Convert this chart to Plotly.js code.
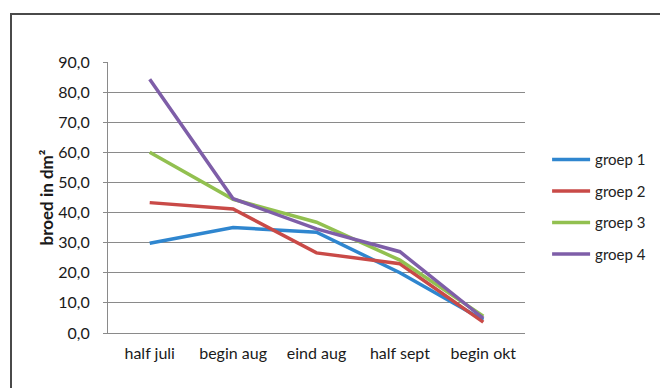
<!DOCTYPE html>
<html>
<head>
<meta charset="utf-8">
<script src="https://cdn.plot.ly/plotly-3.0.1.min.js"></script>
<style>
html,body{margin:0;padding:0;background:#fff;}
#wrap{position:relative;width:660px;height:388px;overflow:hidden;}
#chart{position:absolute;left:0;top:0;width:660px;height:388px;}
#frame{position:absolute;left:10px;top:13px;width:700px;height:400px;border-top:2px solid #4a4a4a;border-left:2px solid #4a4a4a;pointer-events:none;}
</style>
</head>
<body>
<div id="wrap"><div id="chart"></div><div id="frame"></div></div>
<script>
const categories = ["half juli", "begin aug", "eind aug", "half sept", "begin okt"];
const groep1 = [29.8, 35.0, 33.5, 20.0, 4.3];
const groep2 = [43.3, 41.2, 26.6, 23.0, 3.6];
const groep3 = [60.0, 44.4, 36.8, 24.2, 5.6];
const groep4 = [84.3, 44.6, 34.6, 27.0, 4.9];
const seriesNames = ["groep 1", "groep 2", "groep 3", "groep 4"];
const seriesColors = ["#2f86cf", "#c94a47", "#92c050", "#7e5ea8"];
const yTicks = [0, 10, 20, 30, 40, 50, 60, 70, 80, 90];

const allSeries = [groep1, groep2, groep3, groep4];
const traces = allSeries.map((vals, i) => ({
  type: "scatter",
  mode: "lines",
  x: categories,
  y: vals,
  name: seriesNames[i],
  legendgroup: "g" + i,
  line: {color: seriesColors[i], width: 3.5},
  hoverinfo: "skip"
}));

const font = "Lato, 'Open Sans', sans-serif";
const layout = {
  width: 660, height: 388,
  margin: {l: 108, r: 135, t: 62, b: 55, autoexpand: false},
  paper_bgcolor: "#ffffff",
  plot_bgcolor: "#ffffff",
  separators: ",.",
  font: {family: font, size: 15, color: "#222"},
  showlegend: true,
  legend: {
    x: 1.053, xanchor: "left",
    y: 0.70, yanchor: "top",
    traceorder: "grouped",
    tracegroupgap: 9,
    itemwidth: 38,
    font: {family: font, size: 15, color: "#222"},
    bgcolor: "rgba(0,0,0,0)"
  },
  xaxis: {
    type: "category",
    range: [-0.5, 4.5],
    showline: true, linecolor: "#8a8a8a", linewidth: 1,
    showgrid: false, zeroline: false,
    ticks: "", ticklabelstandoff: 6,
    tickfont: {family: font, size: 16, color: "#1a1a1a"},
    fixedrange: true
  },
  yaxis: {
    range: [0, 90],
    tickvals: yTicks,
    tickformat: ".1f",
    showline: true, linecolor: "#8a8a8a", linewidth: 1,
    showgrid: true, gridcolor: "#8a8a8a", gridwidth: 1,
    zeroline: false,
    ticks: "outside", ticklen: 4, tickcolor: "#8a8a8a",
    ticklabelstandoff: 10,
    tickfont: {family: font, size: 16, color: "#1a1a1a"},
    title: {text: "broed in dm²", font: {family: font, size: 17, color: "#1a1a1a", weight: "bold"}, standoff: 0},
    fixedrange: true
  }
};

Plotly.newPlot("chart", traces, layout, {displayModeBar: false, staticPlot: true});
</script>
</body>
</html>
